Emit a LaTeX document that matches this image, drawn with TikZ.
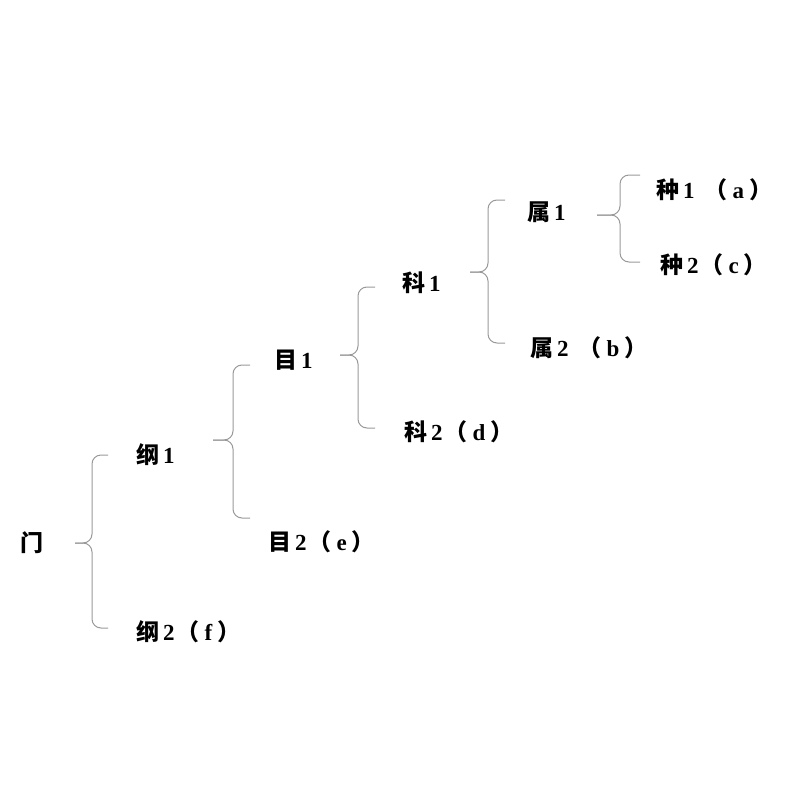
\documentclass[tikz,border=0pt]{standalone}
\usepackage{fontspec}
\setmainfont{Liberation Serif}
\newfontfamily\cjk{Noto Sans CJK SC}
\newcommand{\lt}[1]{{\rmfamily\bfseries #1}}
\newcommand{\pr}[1]{\hspace{2pt}（\hspace{5pt}\lt{#1}\hspace{5pt}）}
\begin{document}
\begin{tikzpicture}[x=1pt,y=-1pt,
  lbl/.style={font=\cjk\bfseries\fontsize{23}{26}\selectfont,inner sep=0pt},
  br/.style={draw=gray!80,line width=1pt,rounded corners=9pt}]
\useasboundingbox (0,0) rectangle (800,800);
\newcommand{\brc}[5]{%
  \draw[br] (#3,#4) -- (#2,#4) -- (#2,#5) -- (#1,#5);
}
\node[lbl] (men) at (32,543) {门};
\node[lbl,anchor=west] (g1) at (136,455) {纲\hspace{4pt}\lt{1}};
\node[lbl,anchor=west] (g2) at (136,632) {纲\hspace{4pt}\lt{2}\pr{f}};
\node[lbl,anchor=west] (m1) at (274,360) {目\hspace{4pt}\lt{1}};
\node[lbl,anchor=west] (m2) at (268,542) {目\hspace{4pt}\lt{2}\pr{e}};
\node[lbl,anchor=west] (k1) at (402,283) {科\hspace{4pt}\lt{1}};
\node[lbl,anchor=west] (k2) at (404,432) {科\hspace{4pt}\lt{2}\pr{d}};
\node[lbl,anchor=west] (s1) at (527,212) {属\hspace{4pt}\lt{1}};
\node[lbl,anchor=west] (s2) at (530,348) {属\hspace{4pt}\lt{2}\hspace{8pt}\pr{b}};
\node[lbl,anchor=west] (z1) at (656,190) {种\hspace{4pt}\lt{1}\hspace{8pt}\pr{a}};
\node[lbl,anchor=west] (z2) at (660,265) {种\hspace{4pt}\lt{2}\pr{c}};
% braces
\brc{75}{92}{108}{455}{543}\brc{75}{92}{108}{628}{543}
\brc{213}{233}{250}{365}{440}\brc{213}{233}{250}{518}{440}
\brc{340}{358}{375}{287}{355}\brc{340}{358}{375}{428}{355}
\brc{470}{488}{505}{200}{272}\brc{470}{488}{505}{343}{272}
\brc{597}{620}{640}{175}{215}\brc{597}{620}{640}{262}{215}
\end{tikzpicture}
\end{document}
